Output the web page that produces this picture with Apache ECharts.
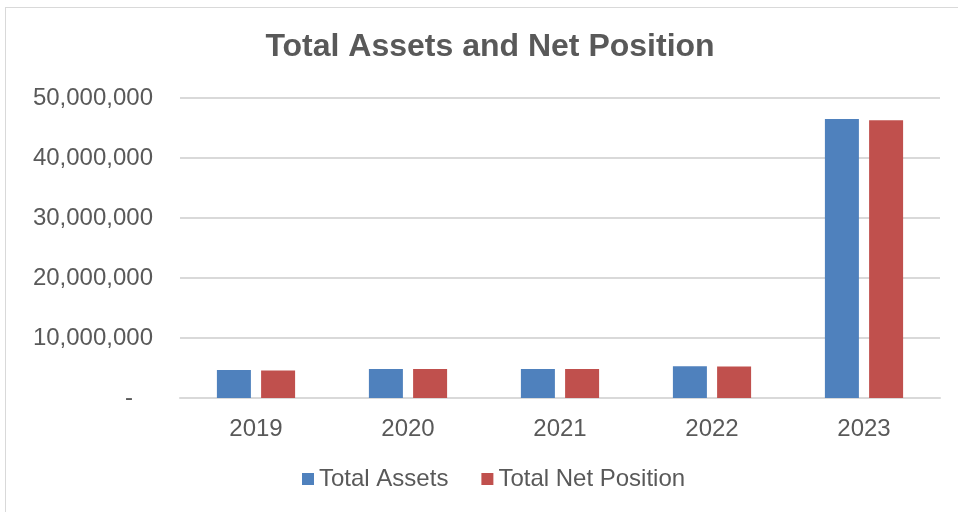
<!DOCTYPE html>
<html>
<head>
<meta charset="utf-8">
<script src="https://cdn.jsdelivr.net/npm/echarts@6/dist/echarts.min.js"></script>
<style>
  html, body { margin: 0; padding: 0; background: #fff; }
  #frame { position: absolute; left: 5px; top: 7px; width: 960px; height: 520px; border: 1px solid #d9d9d9; box-sizing: border-box; }
  #chart { position: absolute; left: 0; top: 0; width: 958px; height: 512px; }
</style>
</head>
<body>
<div id="frame"></div>
<div id="chart"></div>
<script>
const years = ["2019", "2020", "2021", "2022", "2023"];
const totalAssets = [4650000, 4850000, 4850000, 5300000, 46500000];
const totalNetPosition = [4600000, 4850000, 4850000, 5250000, 46300000];

const chart = echarts.init(document.getElementById("chart"));

const option = {
	title: {
		text: "Total Assets and Net Position",
		left: 485,
		textAlign: "center",
		top: 26,
		textStyle: { fontFamily: "Liberation Sans", fontSize: 32, fontWeight: "bold", color: "#595959" },
	},
	legend: {
		bottom: 16,
		left: 297,
		itemWidth: 12,
		itemHeight: 12,
		itemGap: 33,
		icon: "rect",
		textStyle: { fontFamily: "Liberation Sans", fontSize: 24, color: "#595959" },
	},
	grid: { left: 180, right: 18, top: 98, bottom: 114 },
	xAxis: {
		type: "category",
		data: years,
		axisTick: { show: false },
		axisLine: { lineStyle: { color: "#d9d9d9", width: 2 } },
		axisLabel: { fontFamily: "Liberation Sans", fontSize: 24, color: "#595959", margin: 19 },
	},
	yAxis: {
		type: "value",
		min: 0,
		max: 50000000,
		interval: 10000000,
		axisLine: { show: false },
		axisTick: { show: false },
		splitLine: { lineStyle: { color: "#d9d9d9", width: 2 } },
		axisLabel: {
			fontFamily: "Liberation Sans",
			fontSize: 24,
			color: "#595959",
			margin: 27,
			formatter: (v) => (v === 0 ? "-   " : v.toLocaleString("en-US")),
		},
	},
	series: [
		{
			name: "Total Assets",
			type: "bar",
			data: totalAssets,
			barWidth: 34,
			barGap: "30%",
			itemStyle: { color: "#4f81bd" },
		},
		{
			name: "Total Net Position",
			type: "bar",
			data: totalNetPosition,
			barWidth: 34,
			itemStyle: { color: "#c0504d" },
		},
	],
};

chart.setOption(option);
</script>
</body>
</html>
